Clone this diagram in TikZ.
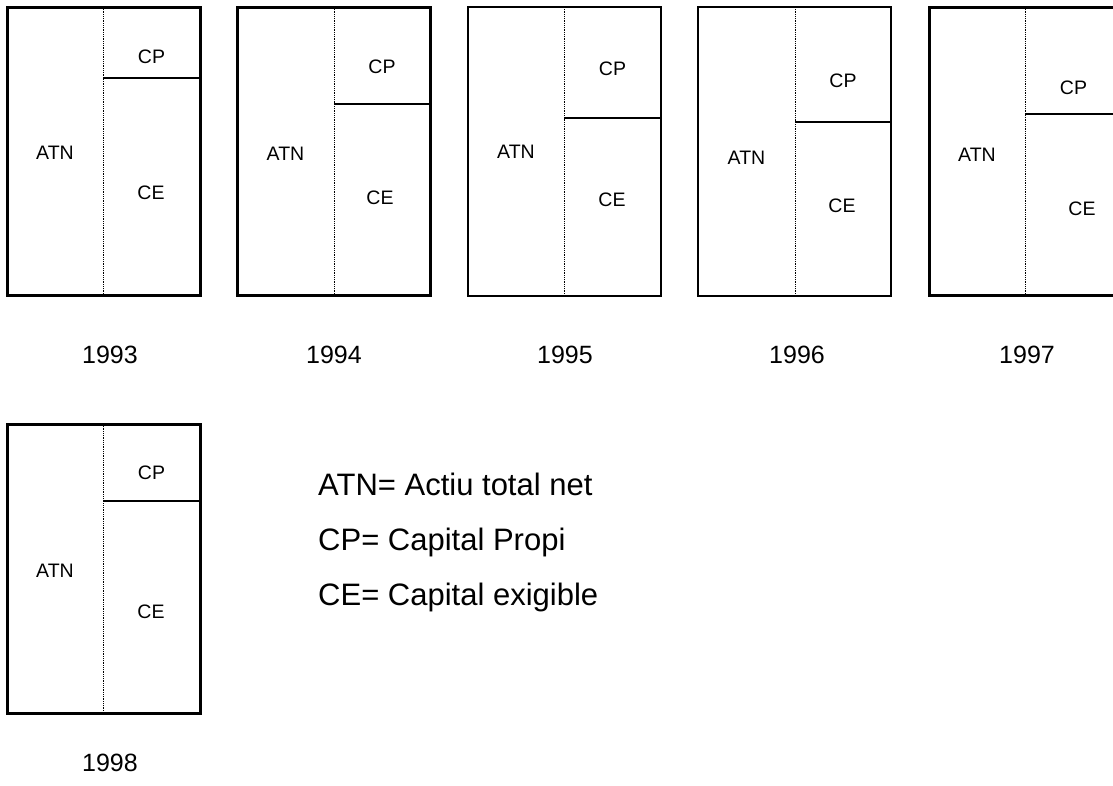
\documentclass[tikz,border=0pt]{standalone}
\usepackage{fontspec}
\setmainfont{Liberation Sans}
\begin{document}
\begin{tikzpicture}[x=1pt,y=-1pt,
  cpline/.style={line width=2.6pt},
  divline/.style={line width=0.8pt, dash pattern=on 0.9pt off 0.9pt},
  boxlbl/.style={font=\fontsize{19.5}{24}\selectfont, inner sep=0pt},
  yearlbl/.style={font=\fontsize{25}{30}\selectfont, inner sep=0pt},
  leglbl/.style={font=\fontsize{31}{36}\selectfont, anchor=base west, inner sep=0pt}]
\useasboundingbox (0,0) rectangle (1113,785);
\clip (0,0) rectangle (1113,785);
\foreach \n/\L/\R/\D/\T/\B/\C/\w/\cpy/\atny/\cey/\cex in {
  1993/7/200/103/7/295/78/3.0/57/153/193/151,
  1994/237/430/334/7/295/104/3.0/67/154/198/380,
  1995/468/661/564/7/296/118/2.2/69/152/200/612,
  1996/698/891/795/7/296/122/2.2/81/158/206/842,
  1997/929/1122/1025/7/295/114/3.0/88/155/209/1082,
  1998/7/200/103/424/713/501/3.0/473/571/612/151}{
  \coordinate (dt\n) at (\D,\T);
  \coordinate (db\n) at (\D,\B);
  \coordinate (cl\n) at (\D,\C);
  \coordinate (cr\n) at (\R,\C);
  \draw[divline] (dt\n) -- (db\n);
  \draw[cpline] (cl\n) -- (cr\n);
  \draw[line width=\w pt] (\L,\T) rectangle (\R,\B);
  \node[boxlbl] (atn\n) at ({(\L+\D)/2},\atny) {ATN};
  \node[boxlbl] (cp\n) at ({(\D+\R)/2},\cpy) {CP};
  \node[boxlbl] (ce\n) at (\cex,\cey) {CE};
}
\node[yearlbl] (y1993) at (110,355) {1993};
\node[yearlbl] (y1994) at (334,355) {1994};
\node[yearlbl] (y1995) at (565,355) {1995};
\node[yearlbl] (y1996) at (797,355) {1996};
\node[yearlbl] (y1997) at (1027,355) {1997};
\node[yearlbl] (y1998) at (110,763) {1998};
\node[leglbl] (lgatn) at (318,495) {ATN= Actiu total net};
\node[leglbl] (lgcp) at (318,550) {CP= Capital Propi};
\node[leglbl] (lgce) at (318,605) {CE= Capital exigible};
\end{tikzpicture}
\end{document}
